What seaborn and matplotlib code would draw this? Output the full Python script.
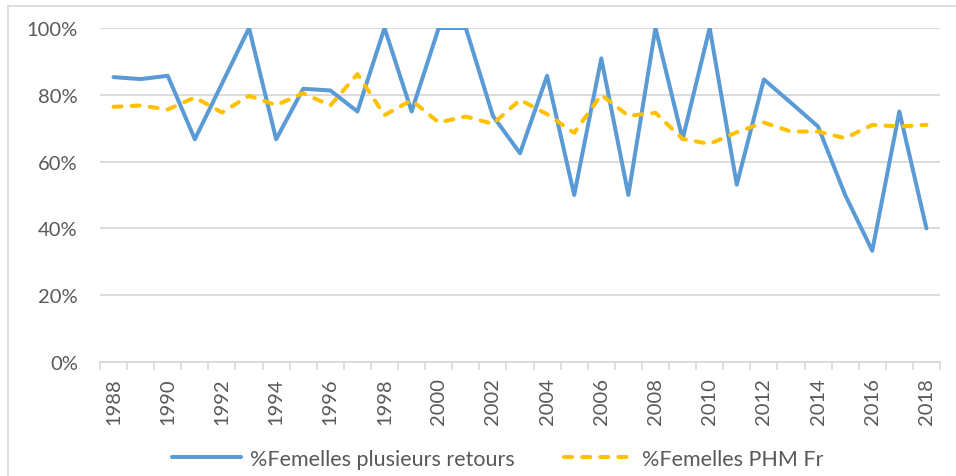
import matplotlib
matplotlib.use("Agg")
import matplotlib.pyplot as plt
from matplotlib.lines import Line2D
from matplotlib.ticker import FixedLocator, PercentFormatter
import seaborn as sns
import pandas as pd

years = list(range(1988, 2019))
plusieurs_retours = [85.3, 84.7, 85.7, 66.7, 83.3, 100.0, 66.7, 81.8, 81.3, 75.0,
                     100.0, 75.0, 100.0, 100.0, 73.7, 62.5, 85.7, 50.0, 90.9, 50.0,
                     100.0, 66.7, 100.0, 53.1, 84.6, 77.6, 70.5, 50.0, 33.3, 75.0,
                     40.0]
phm_fr = [76.4, 76.8, 75.6, 79.2, 74.7, 79.7, 76.9, 80.5, 76.8, 86.2,
          73.9, 78.4, 71.7, 73.5, 71.3, 78.5, 74.2, 68.6, 80.0, 73.7,
          74.6, 66.8, 65.3, 68.8, 71.7, 69.0, 69.0, 67.0, 71.0, 70.5,
          71.0]
series_names = ["%Femelles plusieurs retours", "%Femelles PHM Fr"]

df = pd.DataFrame({"Année": years,
                   series_names[0]: plusieurs_retours,
                   series_names[1]: phm_fr})
long = df.melt(id_vars="Année", var_name="Série", value_name="Pourcentage")

sns.set_theme(style="white")
plt.rcParams["font.family"] = ["Lato", "DejaVu Sans"]
plt.rcParams["lines.dash_capstyle"] = "round"
text_color = "#595959"
grid_color = "#D9D9D9"

fig = plt.figure(figsize=(9.56, 4.77), dpi=100)
ax = fig.add_axes([100 / 956, 1 - 363 / 477, 840 / 956, 334 / 477])

palette = {series_names[0]: "#5B9BD5", series_names[1]: "#FFC000"}
dashes = {series_names[0]: "", series_names[1]: (2.0, 2.5)}
sns.lineplot(data=long, x="Année", y="Pourcentage", hue="Série", style="Série",
             palette=palette, dashes=dashes, linewidth=2.9, ax=ax, legend=False,
             zorder=3)

ax.set_xlim(1987.5, 2018.5)
ax.set_ylim(0, 100)
ax.set_yticks([0, 20, 40, 60, 80, 100])
ax.yaxis.set_major_formatter(PercentFormatter(decimals=0))
ax.grid(axis="y", color=grid_color, linewidth=1.3, zorder=0)
ax.set_xticks(years[::2])
ax.set_xticklabels([str(y) for y in years[::2]], rotation=90)
ax.xaxis.set_minor_locator(FixedLocator([y - 0.5 for y in years] + [2018.5]))
ax.tick_params(axis="x", which="major", length=0, pad=11, labelsize=14.5, colors=text_color)
ax.tick_params(axis="x", which="minor", length=6, width=1.2, color=grid_color, bottom=True)
ax.tick_params(axis="y", length=0, pad=16, labelsize=14.5, colors=text_color)
ax.set_xlabel("")
ax.set_ylabel("")
for side in ["top", "right", "left"]:
    ax.spines[side].set_visible(False)
ax.spines["bottom"].set_color(grid_color)
ax.spines["bottom"].set_linewidth(1.3)

handles = [Line2D([], [], color=palette[n], linewidth=2.9,
                  linestyle=(0, dashes[n]) if dashes[n] else "-") for n in series_names]
fig.legend(handles, series_names, loc="center", bbox_to_anchor=(498 / 956, 1 - 460 / 477),
           ncol=2, frameon=False, fontsize=15.5, handlelength=3.2, handletextpad=0.42,
           columnspacing=2.3, labelcolor=text_color)

# chart frame
fig.add_artist(Line2D([8 / 956, 1], [1 - 7 / 477, 1 - 7 / 477], color=grid_color, linewidth=1.2))
fig.add_artist(Line2D([8 / 956, 8 / 956], [0, 1 - 7 / 477], color=grid_color, linewidth=1.2))

fig.savefig("out.png", dpi=100)
